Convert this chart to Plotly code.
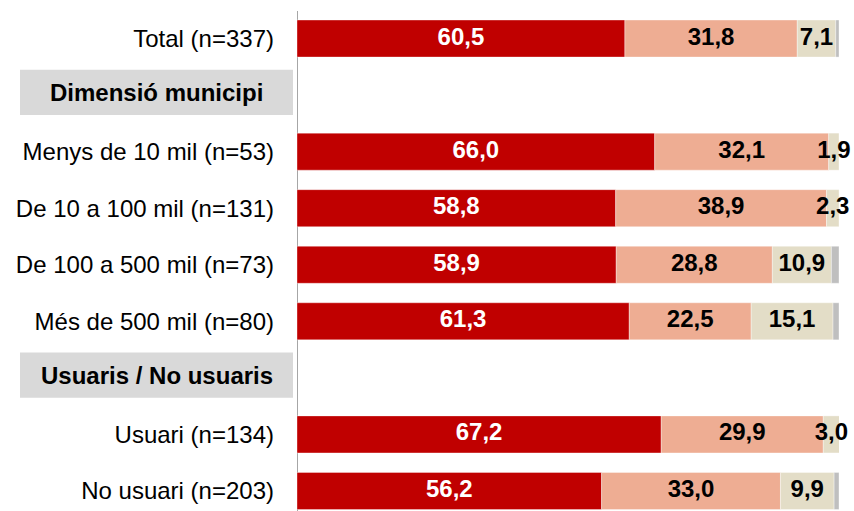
import plotly.graph_objects as go

# Row labels, top to bottom (None values mark section headers)
rows = [
    "Total (n=337)",
    "Dimensió municipi",
    "Menys de 10 mil (n=53)",
    "De 10 a 100 mil (n=131)",
    "De 100 a 500 mil (n=73)",
    "Més de 500 mil (n=80)",
    "Usuaris / No usuaris",
    "Usuari (n=134)",
    "No usuari (n=203)",
]
headers = {"Dimensió municipi", "Usuaris / No usuaris"}

# Percentages per segment
seg1 = [60.5, None, 66.0, 58.8, 58.9, 61.3, None, 67.2, 56.2]
seg2 = [31.8, None, 32.1, 38.9, 28.8, 22.5, None, 29.9, 33.0]
seg3 = [7.1, None, 1.9, 2.3, 10.9, 15.1, None, 3.0, 9.9]
seg4 = [0.6, None, 0.0, 0.0, 1.4, 1.1, None, 0.0, 0.9]

colors = ["#C00000", "#EEAD93", "#E3DDC7", "#BFBFBF"]
text_colors = ["white", "black", "black", None]

FONT = "Liberation Sans, Arial, sans-serif"
FS = 24

ypos = list(range(len(rows)))


def fmt(v):
    return f"{v:.1f}".replace(".", ",")


fig = go.Figure()

series = [seg1, seg2, seg3, seg4]
base = [0.0] * len(rows)
for k, seg in enumerate(series):
    ys, xs, bases = [], [], []
    tx, ty, tt = [], [], []
    for i, v in enumerate(seg):
        if v is None or v == 0:
            continue
        ys.append(ypos[i])
        xs.append(v)
        bases.append(base[i])
        if text_colors[k] is not None:
            tx.append(base[i] + v / 2)
            ty.append(ypos[i])
            tt.append(f"<b>{fmt(v)}</b>")
        base[i] += v
    fig.add_trace(go.Bar(
        y=ys, x=xs, base=bases, orientation="h", width=0.655,
        marker=dict(color=colors[k], line=dict(color="rgba(255,255,255,0.6)", width=0.6)),
        showlegend=False, hoverinfo="skip",
    ))
    if tt:
        fig.add_trace(go.Scatter(
            x=tx, y=ty, text=tt, mode="text", textposition="middle center",
            textfont=dict(family=FONT, size=FS, color=text_colors[k]),
            showlegend=False, hoverinfo="skip", cliponaxis=False,
        ))

# Section header boxes and labels
L, W = 297, 542
shapes = []
annotations = []
for i, r in enumerate(rows):
    if r in headers:
        yc = ypos[i] - 0.05
        shapes.append(dict(
            type="rect", xref="paper", yref="y",
            x0=(20 - L) / W, x1=(293 - L) / W, y0=yc - 0.4, y1=yc + 0.4,
            fillcolor="#D9D9D9", line=dict(width=0), layer="below",
        ))
        annotations.append(dict(
            xref="paper", yref="y", x=(156.5 - L) / W, y=yc,
            text=f"<b>{r}</b>", showarrow=False, xanchor="center", yanchor="middle",
            font=dict(family=FONT, size=FS, color="black"),
        ))

# Vertical axis line
shapes.append(dict(
    type="line", xref="x", yref="paper", x0=0, x1=0, y0=0, y1=1,
    line=dict(color="#A6A6A6", width=2), layer="below",
))

tickvals = [ypos[i] for i, r in enumerate(rows) if r not in headers]
ticktext = [r for r in rows if r not in headers]

fig.update_layout(
    width=854, height=511,
    margin=dict(l=L, r=854 - L - W, t=11, b=0),
    paper_bgcolor="white", plot_bgcolor="white",
    barmode="overlay",
    shapes=shapes, annotations=annotations,
    xaxis=dict(range=[0, 100], visible=False, fixedrange=True),
    yaxis=dict(
        range=[8.354, -0.487], tickvals=tickvals, ticktext=ticktext,
        tickfont=dict(family=FONT, size=FS, color="black"),
        showgrid=False, zeroline=False, showline=False, ticks="",
        ticklabelstandoff=22, fixedrange=True,
    ),
)

fig.write_html("out.html")
